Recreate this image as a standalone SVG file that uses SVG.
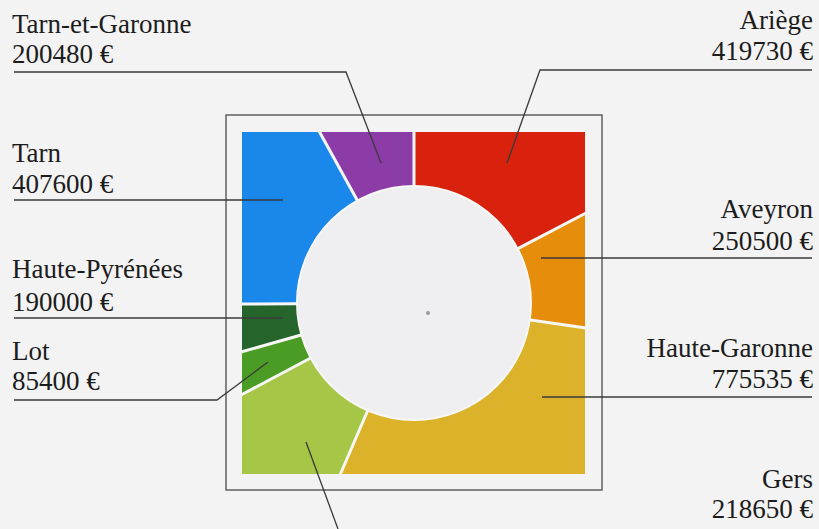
<svg xmlns="http://www.w3.org/2000/svg" width="819" height="529" viewBox="0 0 819 529">
<style>
.lbl{font-family:"Liberation Serif","Times New Roman",serif;font-size:27px;fill:#1c1c1c}
.r{text-anchor:end}
.sep{stroke:#f7f7f5;stroke-width:3;fill:none}
.lead{stroke:#3a3a3a;stroke-width:1.3;fill:none}
</style>
<rect x="0" y="0" width="819" height="529" fill="#f3f3f3"/>
<rect x="226" y="115" width="376" height="375" fill="none" stroke="#4a4a4a" stroke-width="1.3"/>
<g id="chart">
<g id="seg-ariege"><polygon points="414,303 414,132 585,132 585,213" fill="#d8220e"/></g>
<g id="seg-aveyron"><polygon points="414,303 585,213 585,328" fill="#e78d0c"/></g>
<g id="seg-haute-garonne"><polygon points="414,303 585,328 585,474 340,474" fill="#dcb22b"/></g>
<g id="seg-gers"><polygon points="414,303 340,474 242,474 242,395" fill="#a6c647"/></g>
<g id="seg-lot"><polygon points="414,303 242,395 242,352" fill="#4a9c25"/></g>
<g id="seg-hautes-pyrenees"><polygon points="414,303 242,352 242,304" fill="#25652b"/></g>
<g id="seg-tarn"><polygon points="414,303 242,304 242,132 319,132" fill="#1a87ea"/></g>
<g id="seg-tarn-et-garonne"><polygon points="414,303 319,132 414,132" fill="#8c3ca7"/></g>
<path class="sep" d="M414,303 L414,131 M414,303 L586,213 M414,303 L586,328 M414,303 L340,475 M414,303 L241,395 M414,303 L241,352 M414,303 L241,304 M414,303 L319,131"/>
<circle cx="414" cy="303" r="117" fill="#efeff1" stroke="#f7f7f5" stroke-width="2"/>
<circle cx="428" cy="313" r="2" fill="#9a9a9a"/>
</g>
<g id="connectors">
<polyline class="lead" points="14,72 346,72 381,163"/>
<polyline class="lead" points="812,70 540,70 507,163"/>
<polyline class="lead" points="14,200 283,200"/>
<polyline class="lead" points="812,258 541,258"/>
<polyline class="lead" points="14,318 283,318"/>
<polyline class="lead" points="14,400 217,400 268,362"/>
<polyline class="lead" points="812,397 542,397"/>
<polyline class="lead" points="306,442 338,529"/>
</g>
<g id="label-tarn-et-garonne"><text class="lbl" x="12" y="33">Tarn-et-Garonne</text><text class="lbl" x="12" y="63">200480 €</text></g>
<g id="label-tarn"><text class="lbl" x="12" y="162">Tarn</text><text class="lbl" x="12" y="193">407600 €</text></g>
<g id="label-hautes-pyrenees"><text class="lbl" x="12" y="278">Haute-Pyrénées</text><text class="lbl" x="12" y="311">190000 €</text></g>
<g id="label-lot"><text class="lbl" x="12" y="360">Lot</text><text class="lbl" x="12" y="390">85400 €</text></g>
<g id="label-ariege"><text class="lbl r" x="813" y="29">Ariège</text><text class="lbl r" x="813" y="60">419730 €</text></g>
<g id="label-aveyron"><text class="lbl r" x="813" y="218">Aveyron</text><text class="lbl r" x="813" y="250">250500 €</text></g>
<g id="label-haute-garonne"><text class="lbl r" x="813" y="357">Haute-Garonne</text><text class="lbl r" x="813" y="388">775535 €</text></g>
<g id="label-gers"><text class="lbl r" x="813" y="488">Gers</text><text class="lbl r" x="813" y="518">218650 €</text></g>
</svg>
